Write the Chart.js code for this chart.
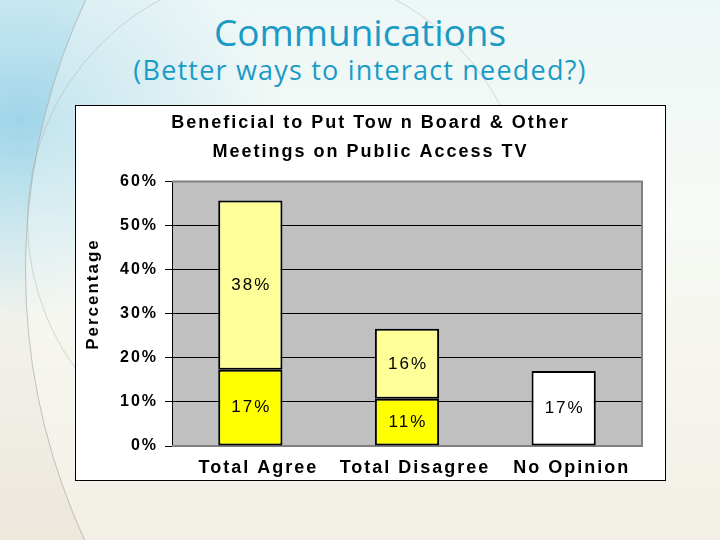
<!DOCTYPE html>
<html>
<head>
<meta charset="utf-8">
<script src="https://cdn.jsdelivr.net/npm/chart.js@4"></script>
<style>
  html, body { margin: 0; padding: 0; }
  body {
    width: 720px; height: 540px; overflow: hidden; position: relative;
    background:
      radial-gradient(ellipse 260px 200px at 20px 120px, rgba(140,205,230,0.8), rgba(140,205,230,0) 100%),
      linear-gradient(to bottom, #e4f3f6 0%, #f3f7f3 40%, #ede7dc 100%);
  }
  .arc {
    position: absolute; border-radius: 50%;
    border: 1px solid rgba(150,150,150,0.55);
  }
  #arc1 { left: 25px; top: -370px; width: 1280px; height: 1280px;
    background: rgba(255,255,250,0.35); }
  #arc2 { left: 27px; top: -30px; width: 500px; height: 500px;
    border-color: rgba(170,170,170,0.45); }
  .title {
    position: absolute; left: 0; width: 720px; text-align: center;
    color: #1a9bc7; font-family: "Open Sans", sans-serif;
  }
  #t1 { top: 6px; font-size: 37px; }
  #t2 { top: 51px; font-size: 27px; letter-spacing: 1.2px; }
  #box {
    position: absolute; left: 75px; top: 105px;
    border: 1px solid #000; background: #fff;
    width: 589px; height: 374px;
  }
</style>
</head>
<body>
<div class="arc" id="arc1"></div>
<div class="arc" id="arc2"></div>
<div class="title" id="t1">Communications</div>
<div class="title" id="t2">(Better ways to interact needed?)</div>
<div id="box"><canvas id="mainChart" width="589" height="374"></canvas></div>

<script>
// data
const categories = ["Total Agree", "Total Disagree", "No Opinion"];
const lowerValues = [17.3, 10.7, null];   // bright yellow part
const upperValues = [38.4, 15.9, null];   // pale yellow part
const noOpinionValues = [null, null, 17.0];
const yTicks = [0, 10, 20, 30, 40, 50, 60];
const chartTitle = ["Beneficial to Put Tow n Board & Other", "Meetings on Public Access TV"];
const yTitle = "Percentage";

const plotGray = "#c0c0c0";
const frameGray = "#808080";
const fontName = "'Liberation Sans', Arial, sans-serif";

/**
 * Plot background, frame, y title and value labels.
 */
const slidePlugin = {
  id: "slidePlugin",
  beforeDraw(chart){
    chart.ctx.letterSpacing = "2px";
    let a = chart.chartArea;
    let ctx = chart.ctx;
    ctx.save();
    ctx.fillStyle = plotGray;
    ctx.fillRect(a.left, a.top, a.right - a.left, a.bottom - a.top);
    ctx.restore();
  },
  beforeDatasetsDraw(chart){
    let a = chart.chartArea;
    let ctx = chart.ctx;
    ctx.save();
    ctx.strokeStyle = frameGray;
    ctx.lineWidth = 2;
    ctx.beginPath();
    ctx.moveTo(a.left, a.top);
    ctx.lineTo(a.right, a.top);
    ctx.lineTo(a.right, a.bottom);
    ctx.lineTo(a.left, a.bottom);
    ctx.stroke();
    ctx.restore();
  },
  afterDatasetsDraw(chart){
    let ctx = chart.ctx;
    ctx.save();
    ctx.fillStyle = "#000";
    ctx.font = "17px " + fontName;
    ctx.textAlign = "center";
    ctx.textBaseline = "middle";
    chart.data.datasets.forEach(function(ds, i){
      let meta = chart.getDatasetMeta(i);
      meta.data.forEach(function(bar, j){
        let v = ds.data[j];
        if(v == null){return;}
        ctx.fillText(Math.round(v) + "%", bar.x + 1, (bar.y + bar.base) / 2);
      });
    });
    ctx.restore();

    ctx.save();
    ctx.translate(17, 188);
    ctx.rotate(-Math.PI / 2);
    ctx.fillStyle = "#000";
    ctx.font = "bold 17px " + fontName;
    ctx.textAlign = "center";
    ctx.textBaseline = "middle";
    ctx.fillText(yTitle, 0, 0);
    ctx.restore();
  }
};

const barStyle = {
  borderColor: "#000",
  borderWidth: 2,
  borderSkipped: false,
  barPercentage: 0.41,
  categoryPercentage: 1
};

new Chart(document.getElementById("mainChart"), {
  type: "bar",
  data: {
    labels: categories,
    datasets: [
      Object.assign({label: "Agree", data: lowerValues, backgroundColor: "#ffff00"}, barStyle),
      Object.assign({label: "Somewhat agree", data: upperValues, backgroundColor: "#ffff99"}, barStyle),
      Object.assign({label: "No opinion", data: noOpinionValues, backgroundColor: "#ffffff"}, barStyle)
    ]
  },
  plugins: [slidePlugin],
  options: {
    responsive: false,
    animation: false,
    layout: { padding: 0 },
    scales: {
      x: {
        stacked: true,
        grid: { display: false },
        border: { display: false },
        ticks: {
          color: "#000",
          padding: 3,
          labelOffset: 8,
          maxRotation: 0,
          font: { family: fontName, size: 18, weight: "bold" }
        },
        afterFit: function(scale){ scale.height = 34; }
      },
      y: {
        stacked: true,
        min: 0,
        max: 60,
        afterBuildTicks: function(scale){ scale.ticks = yTicks.map(v => ({value: v})); },
        grid: {
          color: (c) => (c.tick && (c.tick.value === 60 || c.tick.value === 0)) ? frameGray : "#000",
          tickColor: "#000",
          tickLength: 7,
          lineWidth: 1
        },
        border: { display: true, color: "#000", width: 1 },
        ticks: {
          color: "#000",
          padding: 7,
          callback: (v) => v + "%",
          font: { family: fontName, size: 16, weight: "bold" }
        },
        afterFit: function(scale){ scale.width = 96; }
      },
      // empty right-hand axis, only keeps the margin right of the plot
      yRight: {
        position: "right",
        display: true,
        grid: { display: false },
        border: { display: false },
        ticks: { display: false },
        afterFit: function(scale){ scale.width = 23; }
      }
    },
    plugins: {
      legend: { display: false },
      tooltip: { enabled: false },
      title: {
        display: true,
        text: chartTitle,
        color: "#000",
        font: { family: fontName, size: 18, weight: "bold", lineHeight: 1.6 },
        padding: { top: 3, bottom: 15 }
      }
    }
  }
});
</script>
</body>
</html>
